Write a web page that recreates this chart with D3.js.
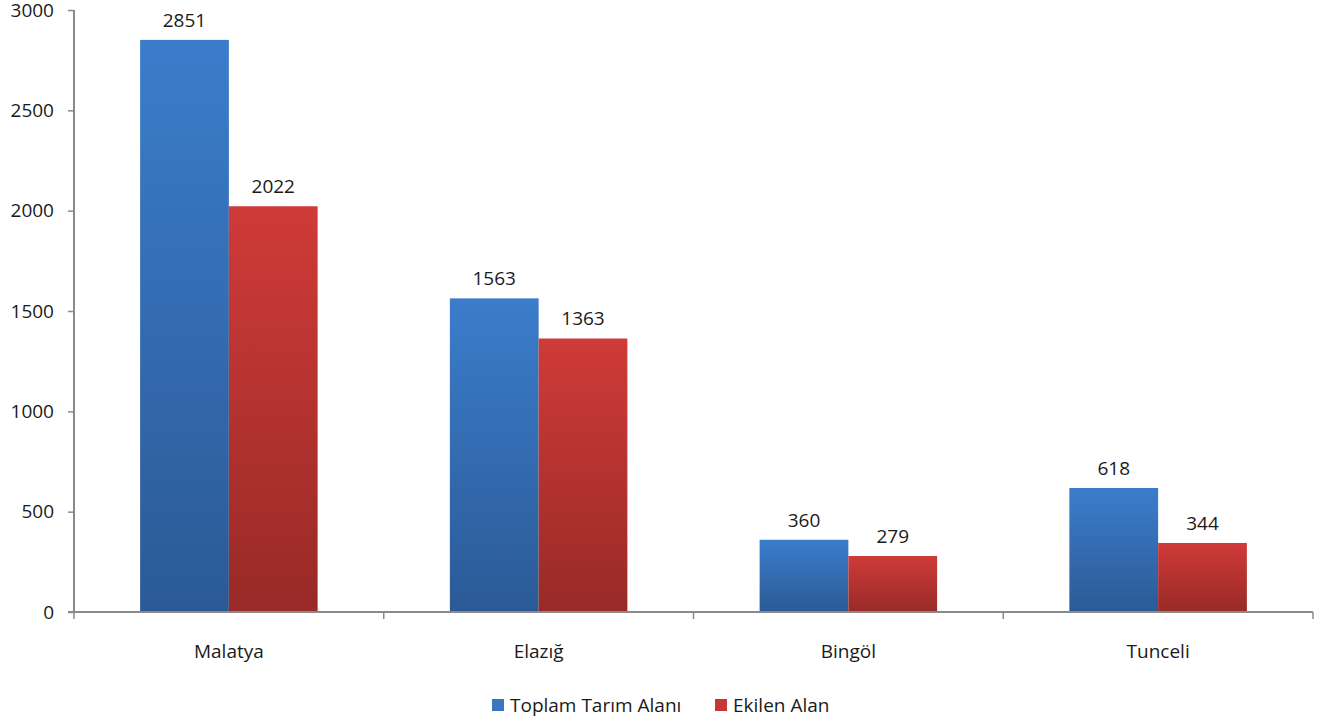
<!DOCTYPE html>
<html>
<head>
<meta charset="utf-8">
<script src="https://cdn.jsdelivr.net/npm/d3@7"></script>
<style>
  body { margin: 0; background: #fff; }
  text { font-family: "Open Sans", sans-serif; fill: #1a1a1a; }
</style>
</head>
<body>
<div id="chart-area"></div>
<script>
// data
const categories = ["Malatya", "Elazığ", "Bingöl", "Tunceli"]
const seriesNames = ["Toplam Tarım Alanı", "Ekilen Alan"]
const toplamValues = [2851, 1563, 360, 618]
const ekilenValues = [2022, 1363, 279, 344]
const yTicks = [0, 500, 1000, 1500, 2000, 2500, 3000]

const W = 1330, H = 725
const MARGIN = { LEFT: 74, RIGHT: 17, TOP: 10, BOTTOM: 113 }
const WIDTH = W - MARGIN.LEFT - MARGIN.RIGHT
const HEIGHT = H - MARGIN.TOP - MARGIN.BOTTOM
const FS = "19px"

const svg = d3.select("#chart-area").append("svg")
    .attr("width", W)
    .attr("height", H)

// gradients
const defs = svg.append("defs")
const grads = [
    { id: "gBlue", top: "#3b7dcb", bottom: "#2b5a96" },
    { id: "gRed", top: "#cf3b38", bottom: "#982a27" }
]
grads.forEach(g => {
    const lg = defs.append("linearGradient")
        .attr("id", g.id)
        .attr("x1", 0).attr("y1", 0).attr("x2", 0).attr("y2", 1)
    lg.append("stop").attr("offset", "0%").attr("stop-color", g.top)
    lg.append("stop").attr("offset", "100%").attr("stop-color", g.bottom)
})
const fills = ["url(#gBlue)", "url(#gRed)"]
const legendColors = ["#3a76c0", "#c63835"]

const g = svg.append("g")
    .attr("transform", `translate(${MARGIN.LEFT}, ${MARGIN.TOP})`)

// scales
const x0 = d3.scaleBand().domain(categories).range([0, WIDTH]).paddingInner(0).paddingOuter(0)
const x1 = d3.scaleBand().domain(seriesNames).range([0, x0.bandwidth()]).paddingInner(0).paddingOuter(0.745)
const y = d3.scaleLinear().domain([0, 3000]).range([HEIGHT, 0])

const rows = categories.map((c, i) => ({ cat: c, vals: [toplamValues[i], ekilenValues[i]] }))

// bars
const groups = g.selectAll(".grp").data(rows).enter().append("g")
    .attr("transform", d => `translate(${x0(d.cat)}, 0)`)

groups.selectAll("rect")
    .data(d => d.vals.map((v, k) => ({ name: seriesNames[k], v, k })))
    .enter().append("rect")
    .attr("x", d => x1(d.name))
    .attr("y", d => y(d.v))
    .attr("width", x1.bandwidth())
    .attr("height", d => HEIGHT - y(d.v))
    .attr("fill", d => fills[d.k])

groups.selectAll(".lbl")
    .data(d => d.vals.map((v, k) => ({ name: seriesNames[k], v, k })))
    .enter().append("text")
    .attr("class", "lbl")
    .attr("x", d => x1(d.name) + x1.bandwidth() / 2)
    .attr("y", d => y(d.v) - 13)
    .attr("text-anchor", "middle")
    .attr("font-size", FS)
    .text(d => d.v)

// y axis
const yAxis = g.append("g")
    .call(d3.axisLeft(y).tickValues(yTicks).tickFormat(d3.format("d")).tickSize(6).tickPadding(14))
yAxis.select(".domain").attr("stroke", "#8a8a8a").attr("stroke-width", 2)
    .attr("d", `M0,${HEIGHT}V0`)
yAxis.selectAll(".tick line").attr("stroke", "#8a8a8a").attr("stroke-width", 1.5)
yAxis.selectAll(".tick text").attr("font-size", FS).attr("font-family", "Open Sans, sans-serif").attr("fill", "#1a1a1a")

// x axis with ticks at category boundaries
const xAxis = g.append("g").attr("transform", `translate(0, ${HEIGHT})`)
xAxis.append("line")
    .attr("x1", -6).attr("x2", WIDTH)
    .attr("stroke", "#8a8a8a").attr("stroke-width", 2)
const bounds = categories.map(c => x0(c)).concat([WIDTH])
xAxis.selectAll(".bt").data(bounds).enter().append("line")
    .attr("x1", d => d).attr("x2", d => d)
    .attr("y1", 0).attr("y2", 7)
    .attr("stroke", "#8a8a8a").attr("stroke-width", 1.5)
xAxis.selectAll(".cl").data(categories).enter().append("text")
    .attr("x", d => x0(d) + x0.bandwidth() / 2)
    .attr("y", 46)
    .attr("text-anchor", "middle")
    .attr("font-size", FS)
    .text(d => d)

// legend
const legend = svg.append("g").attr("transform", "translate(492, 705)")
const legendX = [0, 223]
seriesNames.forEach((n, k) => {
    const lg = legend.append("g").attr("transform", `translate(${legendX[k]}, 0)`)
    lg.append("rect").attr("x", 0).attr("y", -6).attr("width", 12).attr("height", 12)
        .attr("fill", legendColors[k])
    lg.append("text").attr("x", 18).attr("y", 7)
        .attr("font-size", FS)
        .text(n)
})
</script>
</body>
</html>
